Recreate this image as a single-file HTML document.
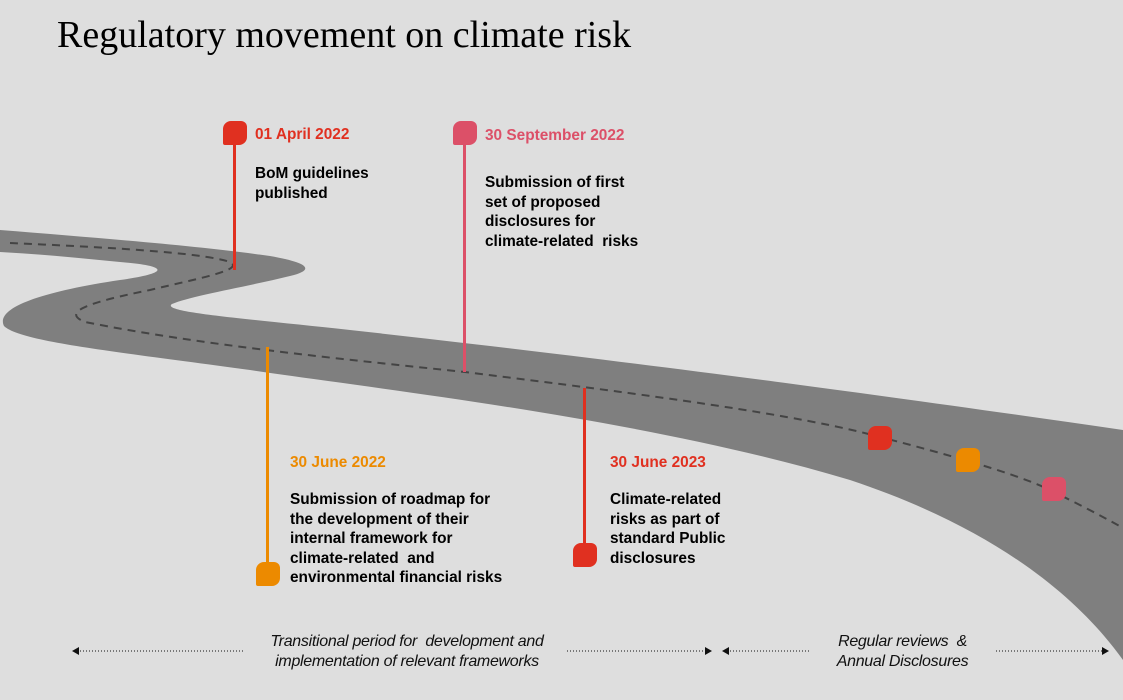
<!DOCTYPE html>
<html><head><meta charset="utf-8"><style>
body{margin:0;width:1123px;height:700px;background:#dedede;position:relative;overflow:hidden;font-family:"Liberation Sans",Arial,sans-serif}
.t{position:absolute;font-weight:bold;font-size:15.4px;line-height:19.5px;color:#000}
.d{position:absolute;font-weight:bold;font-size:15.4px}
.m{position:absolute;width:24px;height:24px;border-radius:8px 6px 8px 2px}
.v{position:absolute;width:3px}
.i{position:absolute;font-style:italic;font-size:16px;line-height:20px;text-align:center;color:#111;letter-spacing:-0.3px}
</style></head><body>
<div style="position:absolute;left:57px;top:13px;font-family:'Liberation Serif',serif;font-size:38px;color:#000">Regulatory movement on climate risk</div>
<svg width="1123" height="700" style="position:absolute;left:0;top:0">
<path d="M0,230 C100,238 200,246 270,256 C310,263 315,270 290,276 C250,286 190,296 172,304 C160,312 240,318 350,330 C550,352 800,383 1123,430 L1123,660 C1080,600 1000,530 850,480 C650,420 400,392 250,370 C120,352 20,342 4,326 C-5,308 40,292 120,280 C170,273 170,266 120,262 C80,258 40,254 0,252 Z" fill="#7f7f7f"/>
<path d="M10,243 C100,247 200,252 230,262 C245,270 200,278 150,290 C90,302 60,312 85,322 C200,345 350,360 465,372 C650,395 800,415 880,437 C950,455 1020,475 1050,490 C1080,505 1100,515 1123,528" fill="none" stroke="#444" stroke-width="2" stroke-dasharray="8,6"/>
<g stroke="#111" stroke-width="1" stroke-dasharray="1,2" fill="none">
<line x1="80" y1="651" x2="245" y2="651"/><line x1="567" y1="651" x2="705" y2="651"/>
<line x1="730" y1="651" x2="810" y2="651"/><line x1="996" y1="651" x2="1102" y2="651"/>
</g>
<g fill="#111"><path d="M72,651 L79,647 L79,655Z"/><path d="M712,651 L705,647 L705,655Z"/><path d="M722,651 L729,647 L729,655Z"/><path d="M1109,651 L1102,647 L1102,655Z"/></g>
</svg>
<div class="v" style="left:233px;top:135px;height:135px;background:#e03020"></div>
<div class="m" style="left:223px;top:121px;background:#e03020"></div>
<div class="d" style="left:255px;top:126px;color:#e03020">01 April 2022</div>
<div class="t" style="left:255px;top:164px">BoM guidelines<br>published</div>
<div class="v" style="left:463px;top:135px;height:237px;background:#dc5068"></div>
<div class="m" style="left:453px;top:121px;background:#dc5068"></div>
<div class="d" style="left:485px;top:127px;color:#dc5068">30 September 2022</div>
<div class="t" style="left:485px;top:173px">Submission of first<br>set of proposed<br>disclosures for<br>climate-related &nbsp;risks</div>
<div class="v" style="left:266px;top:347px;height:225px;background:#ec8a00"></div>
<div class="m" style="left:256px;top:562px;background:#ec8a00"></div>
<div class="d" style="left:290px;top:454px;color:#ec8a00">30 June 2022</div>
<div class="t" style="left:290px;top:490px">Submission of roadmap for<br>the development of their<br>internal framework for<br>climate-related &nbsp;and<br>environmental financial risks</div>
<div class="v" style="left:583px;top:388px;height:170px;background:#e03020"></div>
<div class="m" style="left:573px;top:543px;background:#e03020"></div>
<div class="d" style="left:610px;top:454px;color:#e03020">30 June 2023</div>
<div class="t" style="left:610px;top:490px">Climate-related<br>risks as part of<br>standard Public<br>disclosures</div>
<div class="m" style="left:868px;top:426px;background:#e03020"></div>
<div class="m" style="left:956px;top:448px;background:#ec8a00"></div>
<div class="m" style="left:1042px;top:477px;background:#dc5068"></div>
<div class="i" style="left:237px;top:632px;width:340px">Transitional period for &nbsp;development and<br>implementation of relevant frameworks</div>
<div class="i" style="left:795px;top:632px;width:215px">Regular reviews &nbsp;&amp;<br>Annual Disclosures</div>
</body></html>
